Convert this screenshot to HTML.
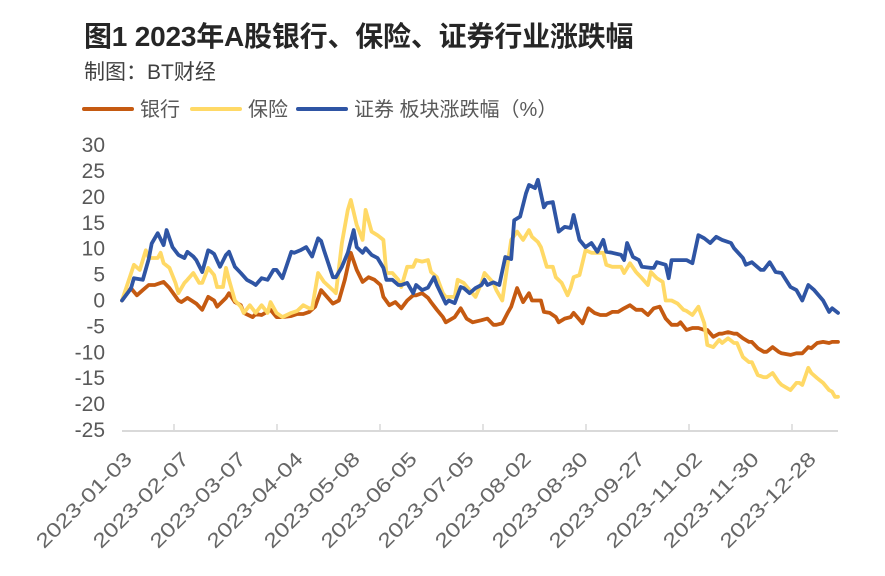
<!DOCTYPE html>
<html><head><meta charset="utf-8">
<style>
body{margin:0;background:#fff;width:885px;height:571px;overflow:hidden;font-family:"Liberation Sans","Noto Sans CJK SC",sans-serif;}
</style></head>
<body>
<svg id="chart" width="885" height="571" xmlns="http://www.w3.org/2000/svg">
<text x="84" y="46" font-size="28" font-weight="bold" fill="#262626" letter-spacing="-0.2" font-family="Liberation Sans, Noto Sans CJK SC, sans-serif">图1 2023年A股银行、保险、证券行业涨跌幅</text>
<text x="84" y="79" font-size="21" fill="#404040" font-family="Liberation Sans, Noto Sans CJK SC, sans-serif">制图：BT财经</text>
<g font-size="20" fill="#595959" font-family="Liberation Sans, Noto Sans CJK SC, sans-serif">
<g><line x1="84" y1="109" x2="132" y2="109" stroke="#C55A11" stroke-width="4" stroke-linecap="round"/><text x="140" y="116">银行</text></g>
<g><line x1="192" y1="109" x2="240" y2="109" stroke="#FFD966" stroke-width="4" stroke-linecap="round"/><text x="248" y="116">保险</text></g>
<g><line x1="298" y1="109" x2="346" y2="109" stroke="#2F55A4" stroke-width="4" stroke-linecap="round"/><text x="354" y="116">证券 板块涨跌幅（%）</text></g>
</g>
<g id="axes"></g>
<g id="series"></g>
</svg>
<script>
const yTicks=[30,25,20,15,10,5,0,-5,-10,-15,-20,-25];
const xLabels=["2023-01-03","2023-02-07","2023-03-07","2023-04-04","2023-05-08","2023-06-05","2023-07-05","2023-08-02","2023-08-30","2023-09-27","2023-11-02","2023-11-30","2023-12-28"];
const totalDays=241;
const bankDays=[0,3,5,7,9,11,13,14,16,19,20,22,25,26,27,29,31,32,35,36,38,40,41,44,45,47,50,52,54,57,59,61,63,65,67,69,71,73,75,77,79,81,83,85,87,88,90,92,94,96,98,99,101,103,104,106,108,109,112,114,116,118,121,123,125,126,128,130,131,133,135,137,138,141,142,144,146,147,149,151,152,155,157,159,161,163,165,167,169,171,173,175,177,179,181,183,185,187,188,190,192,194,196,197,199,201,202,204,206,207,209,211,212,214,216,217,219,221,222,225,227,229,231,232,234,236,238,239,241];
const bankValues=[0,2.4,1,2,3,3,3.4,3.6,2.4,0,-0.3,0.5,-0.6,-1.2,-1.8,0.7,0,-1.2,0.5,1.4,-0.3,-0.9,-2.4,-3.2,-2.6,-2.8,-1.8,-3.2,-3.2,-3,-2.6,-2.6,-2.2,-1.2,2,0.7,-0.6,0,4,9.2,5.9,3.6,4.5,4,3,0.7,-0.9,-0.3,-1.5,0,1,1,1.4,0.5,-0.3,-1.8,-3.2,-4.2,-3.2,-1.5,-3.5,-4.2,-3.8,-3.5,-4.7,-4.7,-4.4,-2.2,-1.2,2.4,-0.3,1.4,0,0,-2.2,-2.4,-3.2,-4.2,-3.5,-3.2,-2.4,-4.4,-1.5,-2.4,-2.8,-2.8,-2.2,-2.2,-1.5,-0.9,-1.8,-1.8,-2.8,-1.5,-1.2,-3.5,-4.7,-4.7,-4.2,-5.7,-5.3,-5.3,-5.7,-5.7,-7,-6.4,-6.4,-6.1,-6.4,-6.4,-7.3,-8,-8,-9.2,-9.9,-9.9,-9,-9.9,-10.2,-10.5,-10.2,-10.2,-9,-9.2,-8.2,-8,-8.2,-8,-8];
const insDays=[0,2,4,6,8,9,12,13,14,16,18,19,21,22,24,26,27,29,31,32,34,35,36,38,40,41,43,45,47,49,50,52,54,57,59,61,63,64,66,68,71,72,74,76,77,79,81,82,84,86,88,89,91,93,94,96,98,99,101,103,104,106,108,109,112,113,115,117,119,121,122,125,126,128,130,131,133,135,137,138,140,141,143,145,146,148,150,151,152,154,156,158,160,162,163,165,168,169,171,173,175,177,178,180,182,183,185,187,189,190,192,194,196,197,199,201,202,204,206,207,209,211,212,214,216,217,219,221,222,225,227,228,229,231,232,234,236,238,239,240,241];
const insValues=[0,3.4,6.9,5.9,9.7,8.2,8.2,9.2,7.2,6.3,3.4,1.4,3.4,4,5.3,3.4,3.4,6.3,4.9,2.6,2.6,6.3,4,0,-1.2,-2.4,-0.9,-2.4,-0.9,-2.4,-0.3,-2.4,-3.2,-2.4,-2,-0.9,-1.5,-1.5,5.3,3.6,2,1.4,11.1,17.5,19.4,14.6,11.7,17.5,13.3,12.6,11.7,5.3,5.3,4,2.6,6.5,6.5,7.8,7.5,7.8,5.5,4.5,1.4,0.7,0.7,4,3.4,2,0.7,3.4,5.3,3.4,2,0,7.8,11.7,13.3,11.7,13.6,12.3,11.3,10.3,6.5,6.5,4.5,3.4,1,2.4,4.5,4.9,9.7,9.2,9.2,9.2,6.9,6.5,6.5,5.3,7.2,5.5,4.3,3,5.5,4.3,3.6,0,0,-0.6,-1.8,-2,-2.8,-1.2,-4.4,-8.6,-9,-7.6,-8.2,-7.3,-8.2,-8.2,-10.9,-11.9,-11.9,-14.4,-14.8,-14.8,-14,-15.7,-16.3,-17.3,-15.9,-15.9,-16.3,-13,-14,-15,-15.9,-17.3,-17.6,-18.6,-18.6];
const secDays=[0,3,4,7,9,10,12,14,15,17,19,21,22,24,25,27,29,30,31,33,35,36,38,40,42,44,45,47,49,51,52,54,57,58,60,62,64,66,67,68,71,72,74,76,78,79,81,82,84,86,88,89,91,93,94,96,98,99,101,103,105,106,109,110,112,114,115,117,119,121,122,123,125,127,129,131,132,134,136,137,139,140,142,143,145,147,149,151,152,154,156,158,160,162,163,165,168,169,170,172,174,175,178,179,180,183,184,185,188,190,192,194,196,198,200,202,205,206,209,210,212,215,216,218,220,222,225,227,229,231,233,236,238,239,241];
const secValues=[0,2.3,4.3,4,8,11,13,10.7,13.6,10.3,8.8,8.2,9.4,8.5,7.8,5.5,9.7,9.4,9,6.5,8.8,9.4,6.5,5.3,4,3.4,3,4.3,4,5.9,5.9,4.3,9.4,9.2,9.7,10.3,8.5,12,11.5,9.7,4.5,4.5,6.5,9.2,13.6,10.3,9.2,10.1,8.8,8.2,6.3,4,4,3,3,3.4,1.4,3,2,2.5,4.5,3,-0.6,0,-0.5,2.6,2.4,1.4,2.4,3,4,3,3.5,3,8.4,8,15.5,16.2,20.7,22.3,21.7,23.3,18,18.8,19,13.3,14.2,14,16.5,11.7,10.3,11.1,9.4,11.7,9.4,9.2,8.8,7.8,11.1,8.4,7.8,6.5,6.3,6.3,7.4,6.9,4.3,7.8,7.8,7.8,7.2,12.6,12,11.1,12.3,11.7,11.1,10.1,8.2,6.9,7.4,5.9,5.9,7.4,5.5,5.3,2.6,2,0,3,2,0,-2.2,-1.5,-2.4];

const NS="http://www.w3.org/2000/svg";
const X0=122,X1=838,Y0=300.5,PU=5.18;
function xScale(d){return X0+d*(X1-X0)/totalDays;}
function yScale(v){return Y0-v*PU;}
const axes=document.getElementById('axes');
yTicks.forEach(function(t){
  const tx=document.createElementNS(NS,'text');
  
  
  tx.setAttribute('x',105);tx.setAttribute('y',yScale(t)+7);
  tx.setAttribute('text-anchor','end');tx.setAttribute('font-size','21');tx.setAttribute('fill','#595959');
  tx.textContent=t;axes.appendChild(tx);
});
const ax=document.createElementNS(NS,'line');


ax.setAttribute('x1',X0);ax.setAttribute('x2',X1);ax.setAttribute('y1',431);ax.setAttribute('y2',431);
ax.setAttribute('stroke','#d9d9d9');ax.setAttribute('stroke-width','2');axes.appendChild(ax);
for(let k=0;k<7;k++){
  const tk=document.createElementNS(NS,'line');
  
  
  const x=174+103*k;
  tk.setAttribute('x1',x);tk.setAttribute('x2',x);tk.setAttribute('y1',424);tk.setAttribute('y2',431);
  tk.setAttribute('stroke','#d9d9d9');tk.setAttribute('stroke-width','1.5');axes.appendChild(tk);
}
xLabels.forEach(function(l,i){
  const tx=document.createElementNS(NS,'text');
  
  
  const x=129+57*i,y=456;
  tx.setAttribute('transform','translate('+x+','+y+') rotate(-45)');
  tx.setAttribute('text-anchor','end');tx.setAttribute('font-size','20');tx.setAttribute('fill','#666666');
  tx.setAttribute('textLength','126');tx.setAttribute('lengthAdjust','spacingAndGlyphs');
  tx.setAttribute('y','6');
  tx.textContent=l;axes.appendChild(tx);
});
const ser=document.getElementById('series');
function draw(days,vals,color,name){
  const p=document.createElementNS(NS,'polyline');
  
  
  p.setAttribute('points',days.map(function(d,i){return xScale(d).toFixed(1)+','+yScale(vals[i]).toFixed(1);}).join(' '));
  p.setAttribute('fill','none');p.setAttribute('stroke',color);p.setAttribute('stroke-width','3.8');
  p.setAttribute('stroke-linejoin','round');p.setAttribute('stroke-linecap','round');
  ser.appendChild(p);
}
draw(bankDays,bankValues,'#C55A11','line-bank');
draw(insDays,insValues,'#FFD966','line-insurance');
draw(secDays,secValues,'#2F55A4','line-securities');
</script>
</body></html>
